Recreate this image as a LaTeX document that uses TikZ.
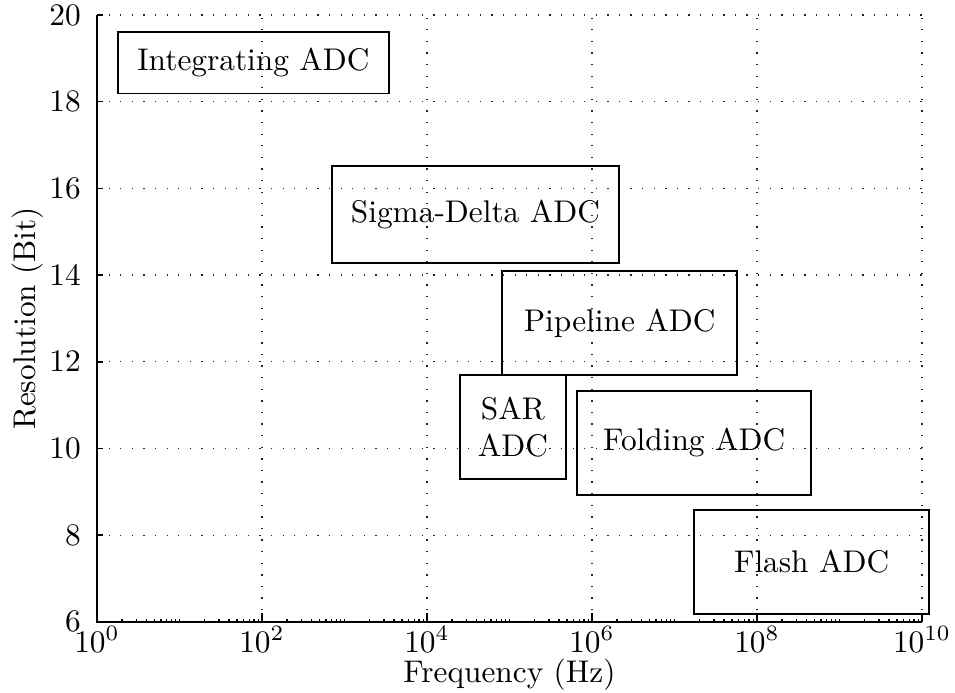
\documentclass[tikz,border=0pt]{standalone}
\usetikzlibrary{fit}
\begin{document}
\begin{tikzpicture}[x=26.32pt,y=13.83pt,
  gridline/.style={line width=0.4pt, dash pattern=on 0.4pt off 3.3pt, black!85},
  axisline/.style={line width=0.5pt},
  tickmark/.style={line width=0.45pt},
  adcbox/.style={draw, line width=0.6pt, inner sep=0pt},
  adclabel/.style={inner sep=0pt, align=center},
  xticklab/.style={anchor=north, inner sep=0pt, yshift=-1.3pt},
  yticklab/.style={anchor=east, inner sep=0pt, xshift=-5pt}]
% canvas: x in decades of Hz, y in bits
\useasboundingbox (-1.1758,4.3624) rectangle (10.4,20.346);

% dotted grid at the major ticks
\foreach \d in {2,4,...,10} \draw[gridline] (\d,6) -- (\d,20);
\foreach \b in {8,10,...,20} \draw[gridline] (0,\b) -- (10,\b);

% axes
\draw[axisline] (0,20) -- (0,6) -- (10,6);

% x ticks: every second decade labelled, logarithmic minor ticks between
\foreach \d in {0,2,...,10} {
  \draw[tickmark] (\d,6) -- ++(0,2.8pt);
  \node[xticklab] (xt\d) at (\d,6) {$10^{\d}$};
}
\foreach \d in {1,3,...,9}
  \draw[tickmark] (\d,6) -- ++(0,1pt);
\foreach \d in {0,...,9}
  \foreach \k in {2,...,9}
    \draw[tickmark] ({\d+log10(\k)},6) -- ++(0,1pt);

% y ticks
\foreach \b in {6,8,...,20} {
  \draw[tickmark] (0,\b) -- ++(1.8pt,0);
  \node[yticklab] (yt\b) at (0,\b) {$\b$};
}

% axis titles
\node[anchor=base, inner sep=0pt] (xlab) at (5,6) [yshift=-19.3pt] {Frequency (Hz)};
\node[rotate=90, inner sep=0pt] (ylab) at (-0.842,13) {Resolution (Bit)};

% converter ranges
\node[adcbox, fit={(0.2545,18.19) (3.539,19.60)}] (integ) {};
\node[adcbox, fit={(2.844,14.273) (6.330,16.517)}] (sigma) {};
\node[adcbox, fit={(4.913,11.690) (7.758,14.088)}] (pipe) {};
\node[adcbox, fit={(4.396,9.290) (5.685,11.690)}] (sar) {};
\node[adcbox, fit={(5.818,8.930) (8.658,11.335)}] (fold) {};
\node[adcbox, fit={(7.236,6.180) (10.088,8.583)}] (flash) {};

\node[adclabel] (integ-t) at (integ.center) {Integrating ADC};
\node[adclabel] (sigma-t) at (sigma.center) {Sigma-Delta ADC};
\node[adclabel] (pipe-t)  at (pipe.center)  {Pipeline ADC};
\node[adclabel] (sar-t)   at (sar.center)   {SAR\\ADC};
\node[adclabel] (fold-t)  at (fold.center)  {Folding ADC};
\node[adclabel] (flash-t) at (flash.center) {Flash ADC};
\end{tikzpicture}
\end{document}
